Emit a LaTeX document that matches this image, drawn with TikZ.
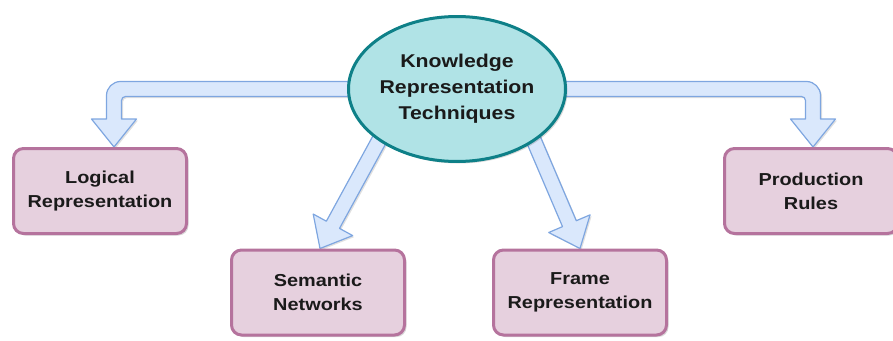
\documentclass[tikz,border=0pt]{standalone}
\usepackage{fontspec}
\newfontfamily\lblfont{Liberation Sans}[FakeStretch=1.15]
\usetikzlibrary{shapes.geometric,calc,shadows}
\pgfdeclarelayer{bg}
\pgfsetlayers{bg,main}
\definecolor{boxfill}{HTML}{E6D0DE}
\definecolor{boxline}{HTML}{B5739D}
\definecolor{elfill}{HTML}{B0E3E6}
\definecolor{elline}{HTML}{0E8088}
\definecolor{arrfill}{HTML}{DAE8FC}
\definecolor{arrline}{HTML}{7EA6E0}
\definecolor{txt}{HTML}{1A1A1A}
\begin{document}
\begin{tikzpicture}[x=1pt,y=-1pt,
  softshadow/.style={drop shadow={shadow xshift=2pt,shadow yshift=-2pt,opacity=0.15,fill=black}},
  techbox/.style={draw=boxline, fill=boxfill, line width=3pt, rounded corners=10pt,
    minimum width=173pt, minimum height=85pt, align=center, inner sep=0pt, text=txt,
    font=\lblfont\bfseries\fontsize{17.3}{24}\selectfont, softshadow},
  mainel/.style={ellipse, draw=elline, fill=elfill, line width=3pt,
    minimum width=217pt, minimum height=145pt, inner sep=0pt, inner xsep=-1pt, align=center, text=txt,
    font=\lblfont\bfseries\fontsize{18.5}{25.8}\selectfont, softshadow},
  flexarr/.style={draw=arrline, fill=arrfill, line width=1.2pt, line join=round,
    drop shadow={shadow xshift=1.5pt,shadow yshift=-1.5pt,opacity=0.12,fill=black}}]
\useasboundingbox (0,0) rectangle (893,340);

\node[mainel] (k) at (457,89) {Knowledge\\Representation\\Techniques};
\node[techbox] (logical) at (100,191) {Logical\\Representation};
\node[techbox] (semantic) at (318,292.5) {Semantic\\Networks};
\node[techbox] (frame) at (580,292.5) {Frame\\Representation};
\node[techbox] (production) at (811,191) {Production\\Rules};

\begin{pgfonlayer}{bg}
% left elbow arrow
\coordinate (lt) at ($(logical.north)+(14,0)$);
\coordinate (lc) at (k.center -| lt);
\path[flexarr] ($(k.center)+(0,-7.5)$)
  [rounded corners=14pt] -- ($(lc)+(-7.5,-7.5)$) [sharp corners]
  -- ($(lt)+(-7.5,-28)$) -- ($(lt)+(-22.5,-28)$) -- (lt) -- ($(lt)+(22.5,-28)$) -- ($(lt)+(7.5,-28)$)
  [rounded corners=4pt] -- ($(lc)+(7.5,7.5)$) [sharp corners]
  -- ($(k.center)+(0,7.5)$) -- cycle;
% right elbow arrow
\coordinate (rt) at ($(production.north)+(2,0)$);
\coordinate (rc) at (k.center -| rt);
\path[flexarr] ($(k.center)+(0,-7.5)$)
  [rounded corners=14pt] -- ($(rc)+(7.5,-7.5)$) [sharp corners]
  -- ($(rt)+(7.5,-28)$) -- ($(rt)+(22.5,-28)$) -- (rt) -- ($(rt)+(-22.5,-28)$) -- ($(rt)+(-7.5,-28)$)
  [rounded corners=4pt] -- ($(rc)+(-7.5,7.5)$) [sharp corners]
  -- ($(k.center)+(0,7.5)$) -- cycle;
% straight arrow to Semantic Networks
\coordinate (s1) at ($(k.center)+(-45,-9)$);
\coordinate (t1) at ($(semantic.north)+(2,0)$);
\coordinate (h1) at ($(t1)!27pt!(s1)$);
\path[flexarr] ($(s1)!7.5pt!90:(t1)$) -- ($(h1)!7.5pt!-90:(s1)$) -- ($(h1)!22.5pt!-90:(s1)$) -- (t1)
  -- ($(h1)!22.5pt!90:(s1)$) -- ($(h1)!7.5pt!90:(s1)$) -- ($(s1)!7.5pt!-90:(t1)$) -- cycle;
% straight arrow to Frame Representation
\coordinate (s2) at ($(k.center)+(51,-9)$);
\coordinate (t2) at (frame.north);
\coordinate (h2) at ($(t2)!27pt!(s2)$);
\path[flexarr] ($(s2)!7.5pt!90:(t2)$) -- ($(h2)!7.5pt!-90:(s2)$) -- ($(h2)!22.5pt!-90:(s2)$) -- (t2)
  -- ($(h2)!22.5pt!90:(s2)$) -- ($(h2)!7.5pt!90:(s2)$) -- ($(s2)!7.5pt!-90:(t2)$) -- cycle;
\end{pgfonlayer}
\end{tikzpicture}
\end{document}
